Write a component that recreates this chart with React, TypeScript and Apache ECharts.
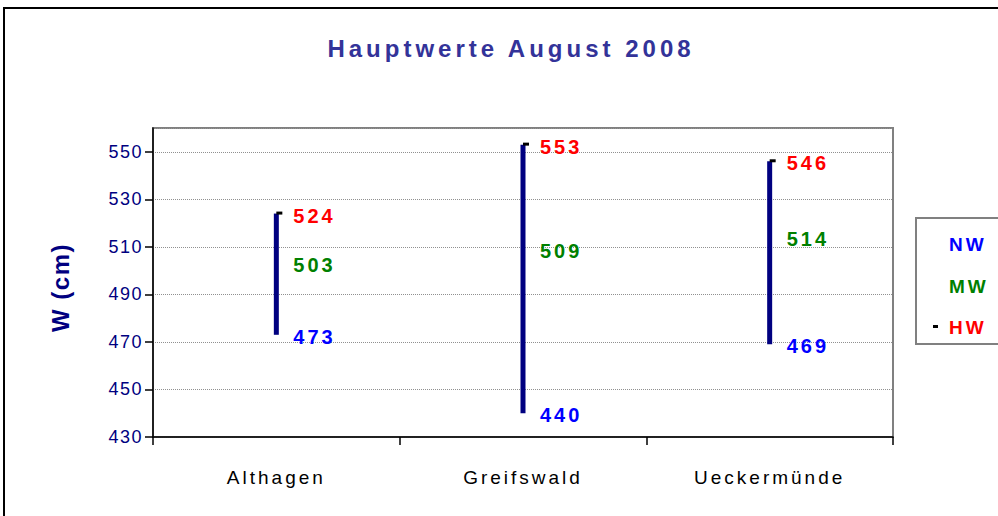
import React, { useEffect, useRef } from "react";
import * as echarts from "echarts";

const title = "Hauptwerte August 2008";
const categories = ["Althagen", "Greifswald", "Ueckermünde"];
const nw = [473, 440, 469];
const mw = [503, 509, 514];
const hw = [524, 553, 546];
const yMin = 430;
const yMax = 560;
const yStep = 20;
const legendNames = ["NW", "MW", "HW"];

const FONT = "'Liberation Sans', Arial, sans-serif";

const css = `
.hw-chart text { letter-spacing: 3px; }
.hw-chart text[fill="#333399"] { letter-spacing: 4px; }
.hw-chart text[fill="#000080"] { letter-spacing: 1.5px; }
`;

export default function App() {
  const ref = useRef<HTMLDivElement>(null);
  useEffect(() => {
    if (!ref.current) return;
    const chart = echarts.init(ref.current, undefined, { renderer: "svg" });
    const off = yMin;
    const labelSeries = (name: string, vals: number[], color: string) => ({
      type: "scatter",
      name,
      symbolSize: 0,
      z: 5,
      itemStyle: { opacity: 1, color },
      data: vals.map((v, i) => [i, v - off]),
      label: {
        show: true,
        position: "right",
        distance: 17,
        offset: [0, 2],
        color,
        opacity: 1,
        fontFamily: FONT,
        fontWeight: "bold",
        fontSize: 20,
        formatter: (p: any) => String(p.value[1] + off),
      },
    });
    chart.setOption({
      animation: false,
      title: {
        text: title,
        left: 506,
        top: 31,
        textAlign: "center",
        textStyle: { color: "#333399", fontFamily: FONT, fontWeight: "bold", fontSize: 24 },
      },
      grid: {
        left: 153,
        right: 105,
        top: 128,
        bottom: 79,
        show: true,
        borderColor: "#808080",
        borderWidth: 2,
      },
      xAxis: {
        type: "category",
        data: categories,
        boundaryGap: true,
        axisLine: { lineStyle: { color: "#000", width: 1.5 } },
        axisTick: { show: true, length: 8, lineStyle: { color: "#000", width: 1.5 } },
        axisLabel: { color: "#000000", fontFamily: FONT, fontSize: 19, margin: 31 },
        splitLine: { show: false },
      },
      yAxis: {
        type: "value",
        min: 0,
        max: yMax - off,
        interval: yStep,
        name: "W (cm)",
        nameLocation: "middle",
        nameGap: 81,
        nameRotate: 90,
        nameTextStyle: {
          color: "#000080",
          fontFamily: FONT,
          fontWeight: "bold",
          fontSize: 24,
          padding: [0, 10, 0, 0],
        },
        axisLine: { show: true, lineStyle: { color: "#000", width: 1.5 } },
        axisTick: { show: true, length: 8, lineStyle: { color: "#000", width: 1.5 } },
        axisLabel: {
          color: "#000080",
          fontFamily: FONT,
          fontSize: 18,
          margin: 10,
          showMaxLabel: false,
          formatter: (v: number) => String(v + off),
        },
        splitLine: { show: true, lineStyle: { color: "#909090", type: "dotted", width: 1 } },
      },
      series: [
        {
          type: "custom",
          name: "range",
          z: 3,
          data: categories.map((_, i) => [i, nw[i] - off, hw[i] - off]),
          renderItem: (params: any, api: any) => {
            const lo = api.coord([api.value(0), api.value(1)]);
            const hi = api.coord([api.value(0), api.value(2)]);
            return {
              type: "group",
              children: [
                {
                  type: "line",
                  shape: { x1: lo[0], y1: lo[1], x2: hi[0], y2: hi[1] },
                  style: { stroke: "#000080", lineWidth: 5 },
                },
                {
                  type: "rect",
                  shape: { x: hi[0], y: hi[1] - 2, width: 6, height: 3 },
                  style: { fill: "#000" },
                },
              ],
            };
          },
        },
        labelSeries(legendNames[0], nw, "#0000FF"),
        labelSeries(legendNames[1], mw, "#008000"),
        labelSeries(legendNames[2], hw, "#FF0000"),
      ],
      graphic: [
        {
          type: "rect",
          shape: { x: 4, y: 8, width: 1010, height: 530 },
          style: { fill: "none", stroke: "#000", lineWidth: 2 },
          silent: true,
        },
        {
          type: "rect",
          shape: { x: 916, y: 218, width: 100, height: 126 },
          style: { fill: "#fff", stroke: "#808080", lineWidth: 2 },
        },
        {
          type: "text",
          x: 949,
          y: 244,
          style: { text: legendNames[0], fill: "#0000FF", font: `bold 19px ${FONT}`, verticalAlign: "middle" },
        },
        {
          type: "text",
          x: 949,
          y: 286,
          style: { text: legendNames[1], fill: "#008000", font: `bold 19px ${FONT}`, verticalAlign: "middle" },
        },
        {
          type: "rect",
          shape: { x: 933, y: 325, width: 5, height: 3 },
          style: { fill: "#000" },
        },
        {
          type: "text",
          x: 949,
          y: 327,
          style: { text: legendNames[2], fill: "#FF0000", font: `bold 19px ${FONT}`, verticalAlign: "middle" },
        },
      ],
    });
    return () => chart.dispose();
  }, []);
  return (
    <>
      <style>{css}</style>
      <div
        ref={ref}
        className="hw-chart"
        style={{ position: "absolute", left: 0, top: 0, width: 998, height: 516, background: "#fff" }}
      />
    </>
  );
}
